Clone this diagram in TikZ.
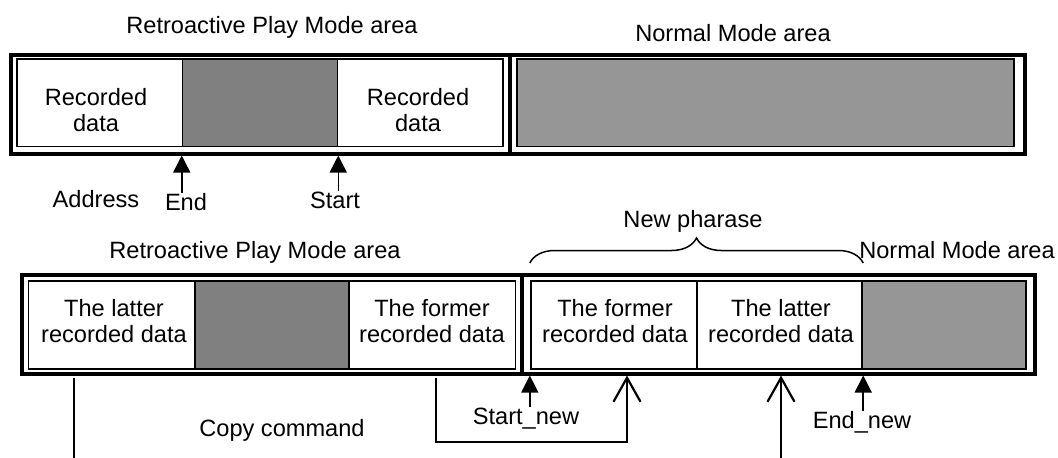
\documentclass[tikz,border=0pt]{standalone}
\usepackage{fontspec}
\setmainfont{Liberation Sans}
\usetikzlibrary{arrows.meta,decorations.pathreplacing}

\definecolor{darkfill}{HTML}{808080}
\definecolor{lightfill}{HTML}{969696}

\tikzset{
	txt/.style={font=\fontsize{11.8pt}{13pt}\selectfont, inner sep=0pt, align=center},
	areabox/.style={draw, line width=2pt, inner sep=0pt},
	cellbox/.style={draw, line width=0.75pt, inner sep=0pt},
	newcell/.style={cellbox, line width=1.2pt},
	solidarrow/.style={line width=0.75pt, -{Triangle[length=8.5pt,width=8.5pt]}},
	openarrow/.style={line width=1.1pt, -{Straight Barb[length=12pt,width=13.5pt]}}
}

\begin{document}
\begin{tikzpicture}[x=0.5pt,y=-0.5pt]
		\useasboundingbox (0,0) rectangle (1058,457);
		\clip (0,0) rectangle (1058,457);

		% Upper memory map
		\node[cellbox, minimum width=82.75pt, minimum height=43.75pt] (recA) at (99.75,102.75) {};
		\node[cellbox, fill=darkfill, minimum width=77.5pt, minimum height=43.75pt] (gapA) at (260,102.75) {};
		\node[cellbox, minimum width=82.75pt, minimum height=43.75pt] (recB) at (420.25,102.75) {};
		\node[cellbox, fill=lightfill, minimum width=248.5pt, minimum height=43.75pt] (normA) at (765.5,102.75) {};
		\node[areabox, minimum width=249.5pt, minimum height=49.5pt] (retroTop) at (260.5,104) {};
		\node[areabox, minimum width=257.5pt, minimum height=49.5pt] (normTop) at (767.5,104) {};

		\node[txt] (recAtxt) at (96,109.9) {Recorded\\data};
		\node[txt] (recBtxt) at (418,109.9) {Recorded\\data};
		\node[txt, anchor=base] (retroTopLbl) at (272,33) {Retroactive Play Mode area};
		\node[txt, anchor=base] (normTopLbl) at (733,41) {Normal Mode area};

		% Addresses of the upper map
		\node[txt, anchor=base] (addrLbl) at (96,207) {Address};
		\node[txt, anchor=base] (endLbl) at (186,210) {End};
		\node[txt, anchor=base] (startLbl) at (335,208) {Start};
		\draw[solidarrow] (gapA.south west |- endLbl.north) -- (gapA.south west |- retroTop.south);
		\draw[solidarrow] (gapA.south east |- startLbl.north) -- (gapA.south east |- retroTop.south);

		% Lower memory map
		\node[cellbox, minimum width=83.25pt, minimum height=44pt] (latterOld) at (111.75,325) {};
		\node[cellbox, fill=darkfill, minimum width=77pt, minimum height=44pt] (gapB) at (272,325) {};
		\node[cellbox, minimum width=83.25pt, minimum height=44pt] (formerOld) at (432.25,325) {};
		\node[cellbox, fill=lightfill, minimum width=82pt, minimum height=44pt] (normB) at (944,325) {};
		\node[newcell, minimum width=83pt, minimum height=44pt] (formerNew) at (614,325) {};
		\node[newcell, minimum width=82.5pt, minimum height=44pt] (latterNew) at (779.5,325) {};
		\node[areabox, minimum width=250pt, minimum height=49.25pt] (retroBot) at (272,324.25) {};
		\node[areabox, minimum width=256.5pt, minimum height=49.25pt] (normBot) at (778.5,324.25) {};

		\node[txt] (latterOldTxt) at (114,321.4) {The latter\\recorded data};
		\node[txt] (formerOldTxt) at (432,321.4) {The former\\recorded data};
		\node[txt] (formerNewTxt) at (615,321.4) {The former\\recorded data};
		\node[txt] (latterNewTxt) at (781,321.4) {The latter\\recorded data};

		\node[txt, anchor=base] (retroBotLbl) at (255,258) {Retroactive Play Mode area};
		\node[txt, anchor=base] (normBotLbl) at (957,258) {Normal Mode area};
		\node[txt, anchor=base] (newLbl) at (693,227) {New pharase};
		\draw[line width=0.75pt, decorate, decoration={brace, amplitude=12.5pt}]
			(formerNew.north west |- 0,263) -- (latterNew.north east |- 0,263);

		% New addresses
		\node[txt, anchor=base] (startNewLbl) at (526,424) {Start\_new};
		\node[txt, anchor=base] (endNewLbl) at (862,428) {End\_new};
		\draw[solidarrow] (formerNew.south west |- startNewLbl.north) -- (formerNew.south west |- normBot.south);
		\draw[solidarrow] (latterNew.south east |- endNewLbl.north) -- (latterNew.south east |- normBot.south);

		% Copy command
		\node[txt, anchor=base] (copyLbl) at (282,436) {Copy command};
		\coordinate (copyFrom) at (436,378);
		\coordinate (copyTo) at (627,375.5);
		\coordinate (latterFrom) at (74,378);
		\coordinate (latterTo) at (781,375.5);
		\draw[openarrow] (copyFrom) -- ++(0,64) -| (copyTo);
		\draw[openarrow] (latterFrom) -- ++(0,100) -| (latterTo);
	\end{tikzpicture}
\end{document}
